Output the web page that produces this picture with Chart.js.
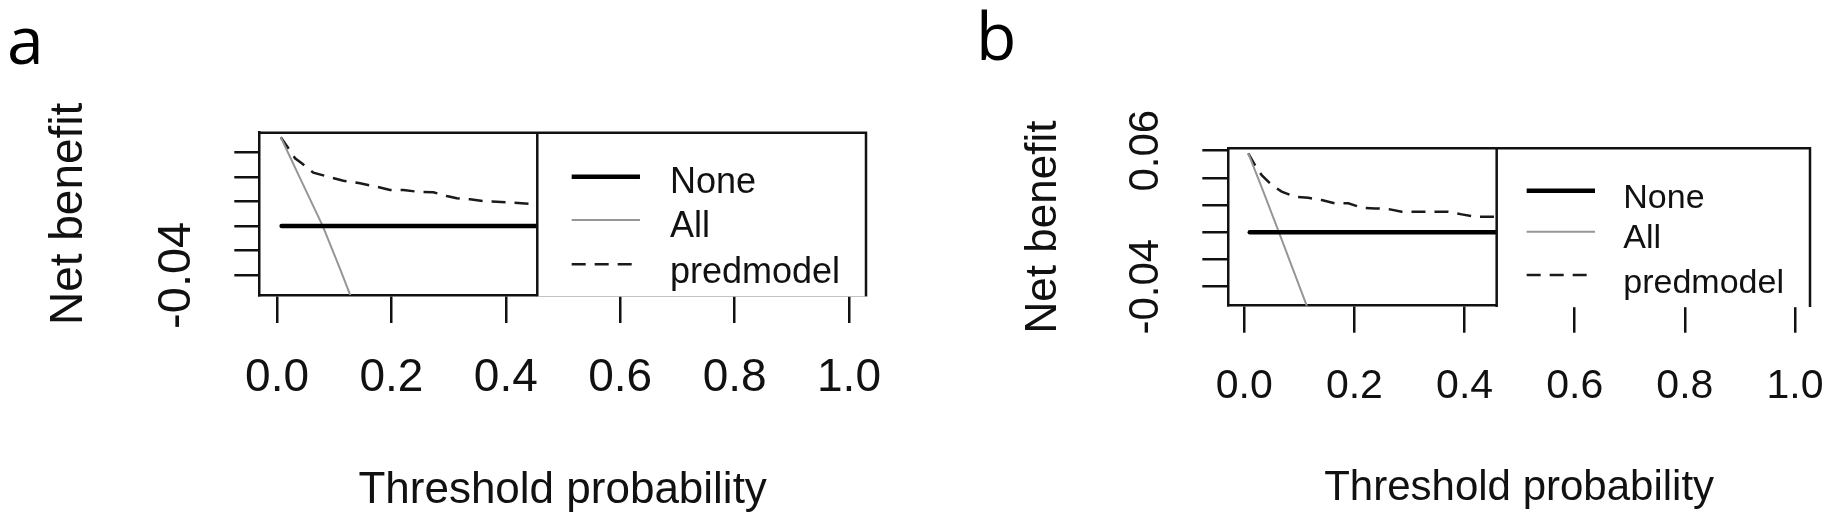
<!DOCTYPE html>
<html>
<head>
<meta charset="utf-8">
<title>Net benefit curves</title>
<script src="https://cdn.jsdelivr.net/npm/chart.js@4"></script>
<style>
  body { margin: 0; background: #fff; }
  .panel { position: absolute; top: 0; width: 917px; height: 531px; }
  .tag { position: absolute; font: 66px/66px "Open Sans", sans-serif; color: #000; }
</style>
</head>
<body>
<div class="panel" style="left:0"><canvas id="chartA"></canvas></div>
<div class="panel" style="left:917px"><canvas id="chartB"></canvas></div>
<div class="tag" style="left:7px; top:5px">a</div>
<div class="tag" style="left:976px; top:1px">b</div>
<script>
// legend labels, axis ticks
const seriesNames = ['None', 'All', 'predmodel'];
const xTicks = [0, 0.2, 0.4, 0.6, 0.8, 1.0];
const xTickLabels = ['0.0', '0.2', '0.4', '0.6', '0.8', '1.0'];
const yTicks = [-0.04, -0.02, 0, 0.02, 0.04, 0.06];
const yTickLabelsA = ['-0.04', '', '', '', '', ''];
const yTickLabelsB = ['-0.04', '', '', '', '', '0.06'];

// panel a
const noneThrA = [0.008, 0.455];
const noneNbA = [0, 0];
const allThrA = [0.0065, 0.04, 0.08, 0.11, 0.14];
const allNbA = [0.0722, 0.0392, 0.0, -0.0345, -0.0705];
const predThrA = [0.0065, 0.0198, 0.0315, 0.0432, 0.0635, 0.0927, 0.1159, 0.1451, 0.1743, 0.1976,
                  0.2208, 0.2442, 0.2733, 0.2967, 0.3142, 0.3374, 0.3607, 0.3841, 0.4131, 0.4423, 0.455];
const predNbA = [0.0722, 0.0633, 0.0551, 0.0511, 0.0434, 0.0397, 0.0369, 0.0348, 0.0320, 0.0293,
                 0.0293, 0.0280, 0.0275, 0.0245, 0.0226, 0.0218, 0.0204, 0.0198, 0.0190, 0.0180, 0.0178];

// panel b
const noneThrB = [0.010, 0.4583];
const noneNbB = [0, 0];
const allThrB = [0.0073, 0.035, 0.063, 0.09, 0.12];
const allNbB = [0.0581, 0.0295, 0.0, -0.029, -0.061];
const predThrB = [0.0073, 0.0194, 0.0316, 0.0498, 0.0679, 0.0921, 0.1162, 0.1405, 0.1647, 0.1889,
                  0.2132, 0.2373, 0.2615, 0.2858, 0.31, 0.37, 0.3948, 0.4189, 0.4583];
const predNbB = [0.0581, 0.0495, 0.0421, 0.0348, 0.0299, 0.0262, 0.0254, 0.0237, 0.0213, 0.0213,
                 0.0181, 0.0176, 0.0171, 0.0151, 0.0151, 0.0151, 0.0132, 0.0115, 0.0115];

Chart.defaults.font.family = '"Liberation Sans", Arial, sans-serif';
Chart.defaults.color = '#111';

// box around the plot plus the R-style legend that covers its right part
const rLegend = {
  id: 'rLegend',
  afterDatasetsDraw(chart, args, o) {
    const {ctx, chartArea: {left, top, right, bottom}} = chart;
    const xl = chart.scales.x.getPixelForValue(o.cut);
    ctx.save();
    ctx.fillStyle = '#fff';
    ctx.fillRect(xl, top, right - xl + 3, bottom - top + 1.5);
    ctx.strokeStyle = '#111';
    ctx.lineWidth = 2.5;
    ctx.lineCap = 'square';
    ctx.beginPath();
    ctx.moveTo(left, top); ctx.lineTo(right, top);
    ctx.moveTo(right, top); ctx.lineTo(right, bottom);
    ctx.moveTo(xl, top); ctx.lineTo(xl, bottom);
    ctx.stroke();
    ctx.font = o.fontSize + 'px "Liberation Sans", Arial, sans-serif';
    ctx.textBaseline = 'alphabetic';
    ctx.textAlign = 'left';
    chart.data.datasets.forEach((ds, i) => {
      ctx.strokeStyle = ds.borderColor;
      ctx.lineWidth = ds.borderWidth;
      ctx.lineCap = 'butt';
      ctx.setLineDash(ds.borderDash || []);
      ctx.beginPath();
      ctx.moveTo(xl + o.lineX[0], top + o.lineY[i]);
      ctx.lineTo(xl + o.lineX[1], top + o.lineY[i]);
      ctx.stroke();
      ctx.setLineDash([]);
      ctx.fillStyle = '#111';
      ctx.fillText(ds.label, xl + o.textX, top + o.textY[i]);
    });
    ctx.restore();
  }
};

function pts(xs, ys) {
  return xs.map((x, i) => ({x: x, y: ys[i]}));
}

function panel(id, s, L) {
  const styles = [
    {borderColor: '#000', borderWidth: 4.5, borderCapStyle: 'round'},
    {borderColor: 'rgb(150,150,150)', borderWidth: 2},
    {borderColor: '#1a1a1a', borderWidth: 2.5, borderDash: [14, 9]}
  ];
  const series = [[s.noneX, s.noneY], [s.allX, s.allY], [s.predX, s.predY]];
  const datasets = series.map((d, i) => Object.assign({
    label: seriesNames[i],
    data: pts(d[0], d[1]),
    showLine: true, pointRadius: 0, tension: 0, clip: 0, fill: false
  }, styles[i]));

  return new Chart(document.getElementById(id), {
    type: 'scatter',
    data: {datasets: datasets},
    plugins: [rLegend],
    options: {
      responsive: true,
      maintainAspectRatio: false,
      animation: false,
      events: [],
      layout: {padding: {left: 0, top: L.top, right: L.right, bottom: 0}},
      plugins: {
        legend: {display: false},
        tooltip: {enabled: false},
        rLegend: L.legend
      },
      scales: {
        x: {
          type: 'linear', min: L.xMin, max: L.xMax,
          afterBuildTicks: sc => { sc.ticks = xTicks.map(v => ({value: v})); },
          afterFit: sc => { sc.height = L.xHeight; sc.paddingLeft = 0; sc.paddingRight = 0; },
          ticks: {
            autoSkip: false, maxRotation: 0, padding: L.xPad,
            font: {size: L.xFont},
            callback: (v, i) => xTickLabels[i]
          },
          grid: {drawOnChartArea: false, tickLength: L.xTick, color: '#111', lineWidth: 2.5},
          border: {color: '#111', width: 2.5},
          title: {display: true, text: 'Threshold probability', font: {size: L.xTitle},
                  padding: {top: 0, bottom: L.xTitlePad}}
        },
        y: {
          type: 'linear', min: L.yMin, max: L.yMax,
          afterBuildTicks: sc => { sc.ticks = yTicks.map(v => ({value: v})); },
          afterFit: sc => { sc.width = L.yWidth; sc.paddingTop = 0; sc.paddingBottom = 0; },
          ticks: {
            autoSkip: false, minRotation: 90, maxRotation: 90, crossAlign: 'center', padding: L.yPad,
            font: {size: L.yFont},
            callback: (v, i) => L.yLabels[i]
          },
          grid: {drawOnChartArea: false, tickLength: L.yTick, color: '#111', lineWidth: 2.5},
          border: {color: '#111', width: 2.5},
          title: {display: true, text: 'Net benefit', font: {size: L.yTitle},
                  padding: {top: L.yTitlePad, bottom: 0}}
        }
      }
    }
  });
}

panel('chartA',
  {noneX: noneThrA, noneY: noneNbA, allX: allThrA, allY: allNbA, predX: predThrA, predY: predNbA},
  {
    top: 132.7, right: 51, xHeight: 236, yWidth: 259.3,
    xMin: -0.031, xMax: 1.0297, yMin: -0.056, yMax: 0.0759,
    xTick: 28, xPad: 27.9, xFont: 46, xTitle: 44, xTitlePad: 13.6,
    yTick: 25, yPad: 4, yFont: 47, yTitle: 46, yTitlePad: 41.6,
    yLabels: yTickLabelsA,
    legend: {cut: 0.455, fontSize: 36, lineX: [34.4, 102.7], textX: 132.7,
             lineY: [44, 87.3, 131.6], textY: [60.6, 104, 150.6]}
  });

panel('chartB',
  {noneX: noneThrB, noneY: noneNbB, allX: allThrB, allY: allNbB, predX: predThrB, predY: predNbB},
  {
    top: 148.3, right: 24, xHeight: 225.3, yWidth: 311.3,
    xMin: -0.029, xMax: 1.0272, yMin: -0.054, yMax: 0.0618,
    xTick: 27, xPad: 29.7, xFont: 41, xTitle: 42, xTitlePad: 17.1,
    yTick: 26, yPad: 7.7, yFont: 42, yTitle: 44, yTitlePad: 100.6,
    yLabels: yTickLabelsB,
    legend: {cut: 0.4583, fontSize: 34, lineX: [30, 98.3], textX: 126.6,
             lineY: [42.4, 83.4, 126.7], textY: [59.4, 100, 145]}
  });
</script>
</body>
</html>
